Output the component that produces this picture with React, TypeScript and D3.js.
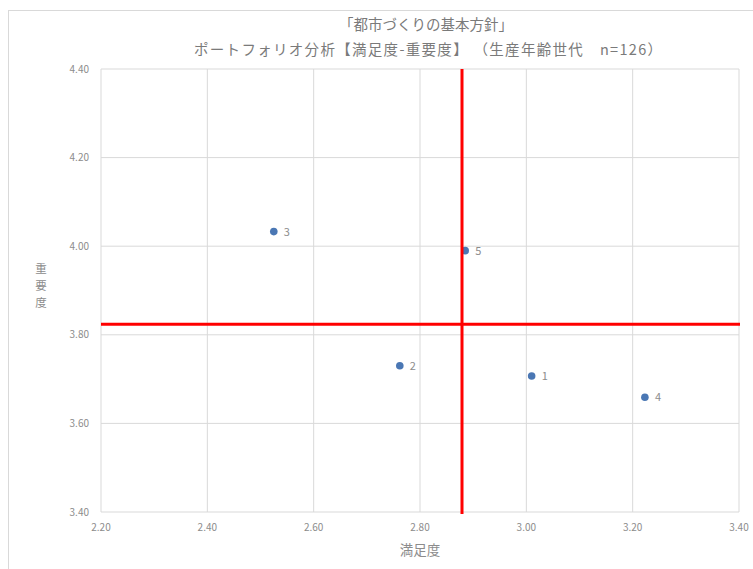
import React from "react";
import * as d3 from "d3";

const labels = ["1", "2", "3", "4", "5"];
const satisfaction = [3.01, 2.762, 2.525, 3.223, 2.885];
const importance = [3.707, 3.73, 4.033, 3.659, 3.99];
const meanSatisfaction = [2.879];
const meanImportance = [3.824];
const xTicks = [2.2, 2.4, 2.6, 2.8, 3.0, 3.2, 3.4];
const yTicks = [3.4, 3.6, 3.8, 4.0, 4.2, 4.4];
const titleLines = ["「都市づくりの基本方針」", "ポートフォリオ分析【満足度-重要度】 （生産年齢世代　n=126）"];
const xTitle = "満足度";
const yTitle = ["重", "要", "度"];

const W = 753;
const H = 569;
const left = 101, right = 739, top = 69, bottom = 512;
const FONT = "'Noto Sans CJK JP', 'Noto Sans', sans-serif";
const gray = "#8c8c8c";

export default function App() {
  const x = d3.scaleLinear().domain([2.2, 3.4]).range([left, right]);
  const y = d3.scaleLinear().domain([3.4, 4.4]).range([bottom, top]);
  return (
    <svg width={W} height={H} style={{ position: "absolute", left: 0, top: 0, background: "#fff" }} fontFamily={FONT}>
      <rect x={8.5} y={10.5} width={W + 20} height={H + 20} fill="#fff" stroke="#d9d9d9" />
      <text x={426} y={30} textAnchor="middle" fontSize={14.5} fill="#7a7a7a">{titleLines[0]}</text>
      <text x={428} y={55} textAnchor="middle" fontSize={14.5} fill="#7a7a7a" textLength={468} lengthAdjust="spacing">{titleLines[1]}</text>
      {xTicks.map((t) => (
        <g key={"x" + t}>
          <line x1={x(t)} x2={x(t)} y1={top} y2={bottom} stroke="#d9d9d9" />
          <text x={x(t)} y={531} textAnchor="middle" fontSize={10} fill={gray}>{t.toFixed(2)}</text>
        </g>
      ))}
      {yTicks.map((t) => (
        <g key={"y" + t}>
          <line x1={left} x2={right} y1={y(t)} y2={y(t)} stroke="#d9d9d9" />
          <text x={89} y={y(t) + 3.5} textAnchor="end" fontSize={10} fill={gray}>{t.toFixed(2)}</text>
        </g>
      ))}
      <text x={(left + right) / 2} y={555} textAnchor="middle" fontSize={13.5} fill={gray}>{xTitle}</text>
      {yTitle.map((c, i) => (
        <text key={c} x={41} y={273 + i * 17} textAnchor="middle" fontSize={11.5} fill={gray}>{c}</text>
      ))}
      {labels.map((l, i) => (
        <g key={l}>
          <circle cx={x(satisfaction[i])} cy={y(importance[i])} r={3.8} fill="#4a77b4" />
          <text x={x(satisfaction[i]) + 10} y={y(importance[i]) + 4} fontSize={11} fill={gray}>{l}</text>
        </g>
      ))}
      <line x1={left} x2={right + 1} y1={y(meanImportance[0])} y2={y(meanImportance[0])} stroke="#ff0000" strokeWidth={3} />
      <line x1={x(meanSatisfaction[0])} x2={x(meanSatisfaction[0])} y1={top} y2={bottom + 2} stroke="#ff0000" strokeWidth={3} />
    </svg>
  );
}
